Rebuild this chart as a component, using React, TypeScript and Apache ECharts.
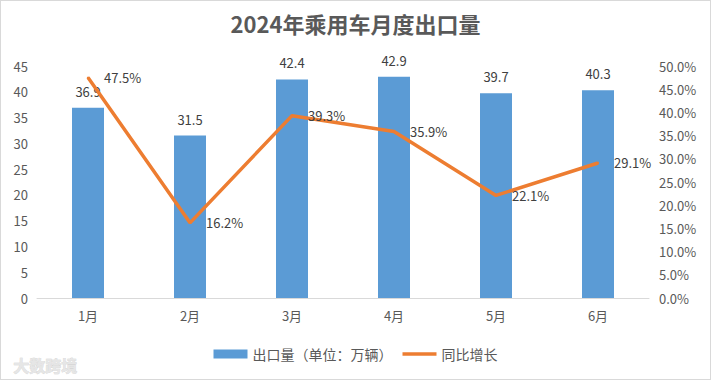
import React, { useEffect, useRef } from "react";
import * as echarts from "echarts";

const categories = ["1月", "2月", "3月", "4月", "5月", "6月"];
const exportVolume = [36.9, 31.5, 42.4, 42.9, 39.7, 40.3];
const yoyGrowth = [47.5, 16.2, 39.3, 35.9, 22.1, 29.1];
const titleText = "2024年乘用车月度出口量";
const barName = "出口量（单位：万辆）";
const lineName = "同比增长";

export default function App() {
  const ref = useRef<HTMLDivElement>(null);
  useEffect(() => {
    if (!ref.current) return;
    const chart = echarts.init(ref.current, undefined, { renderer: "svg" });
    const font = "'Noto Sans CJK SC', 'Microsoft YaHei', sans-serif";
    chart.setOption({
      animation: false,
      textStyle: { fontFamily: font },
      title: {
        text: titleText,
        left: "center",
        top: 6,
        textStyle: { fontSize: 22, fontWeight: "bold", color: "#595959", fontFamily: font },
      },
      legend: {
        bottom: 13,
        left: "center",
        itemWidth: 34,
        itemHeight: 9,
        itemGap: 10,
        textStyle: { fontSize: 14, color: "#595959", fontFamily: font },
        data: [
          { name: barName, icon: "rect" },
          { name: lineName, icon: "path://M0,0 H34 V3.5 H0 Z", itemStyle: { color: "#ED7D31", opacity: 1 } },
        ],
      },
      grid: { left: 36, right: 61, top: 65, bottom: 81, containLabel: false },
      xAxis: {
        type: "category",
        data: categories,
        axisLine: { lineStyle: { color: "#d9d9d9" } },
        axisTick: { show: false },
        axisLabel: { color: "#595959", fontSize: 13, margin: 11 },
      },
      yAxis: [
        {
          type: "value",
          min: 0,
          max: 45,
          interval: 5,
          splitLine: { show: false },
          axisLine: { show: false },
          axisTick: { show: false },
          axisLabel: { color: "#595959", fontSize: 13, margin: 9 },
        },
        {
          type: "value",
          min: 0,
          max: 50,
          interval: 5,
          splitLine: { show: false },
          axisLine: { show: false },
          axisTick: { show: false },
          axisLabel: {
            color: "#595959",
            fontSize: 13,
            margin: 10,
            formatter: (v: number) => v.toFixed(1) + "%",
          },
        },
      ],
      series: [
        {
          name: barName,
          type: "bar",
          data: exportVolume,
          barWidth: 32,
          itemStyle: { color: "#5B9BD5" },
          label: {
            show: true,
            position: "top",
            distance: 10,
            color: "#404040",
            fontSize: 13,
          },
        },
        {
          name: lineName,
          type: "line",
          yAxisIndex: 1,
          data: yoyGrowth,
          symbol: "circle",
          symbolSize: 2,
          showSymbol: true,
          lineStyle: { color: "#ED7D31", width: 3.5 },
          itemStyle: { color: "#ED7D31" },
          label: {
            show: true,
            position: "right",
            distance: 15,
            color: "#404040",
            fontSize: 13,
            formatter: (p: any) => p.value.toFixed(1) + "%",
          },
        },
      ],
      graphic: [
        {
          type: "text",
          left: 12,
          bottom: 6,
          style: {
            text: "大数跨境",
            fill: "#e6e6e6",
            stroke: "#cccccc",
            lineWidth: 0.5,
            fontSize: 16,
            fontWeight: "bold",
            fontFamily: font,
          },
        },
      ],
    });
    return () => chart.dispose();
  }, []);
  return (
    <div
      style={{
        position: "fixed",
        left: 0,
        top: 0,
        width: 711,
        height: 380,
        boxSizing: "border-box",
        border: "1px solid #d9d9d9",
        background: "#fff",
      }}
    >
      <div ref={ref} style={{ width: 709, height: 378 }} />
    </div>
  );
}
